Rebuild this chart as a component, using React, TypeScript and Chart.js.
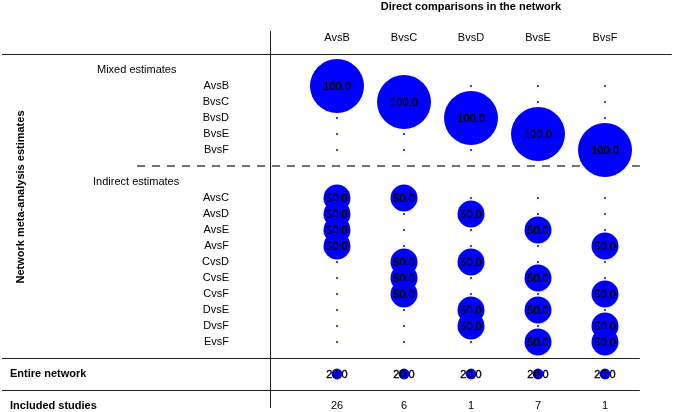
import React, { useEffect, useRef } from "react";
import { Chart, registerables } from "chart.js";

Chart.register(...registerables);

const columns = ["AvsB", "BvsC", "BvsD", "BvsE", "BvsF"];

const mixedLabels = ["AvsB", "BvsC", "BvsD", "BvsE", "BvsF"];
const mixedValues = [
  [100, 0, 0, 0, 0],
  [0, 100, 0, 0, 0],
  [0, 0, 100, 0, 0],
  [0, 0, 0, 100, 0],
  [0, 0, 0, 0, 100],
];

const indirectLabels = ["AvsC", "AvsD", "AvsE", "AvsF", "CvsD", "CvsE", "CvsF", "DvsE", "DvsF", "EvsF"];
const indirectValues = [
  [50, 50, 0, 0, 0],
  [50, 0, 50, 0, 0],
  [50, 0, 0, 50, 0],
  [50, 0, 0, 0, 50],
  [0, 50, 50, 0, 0],
  [0, 50, 0, 50, 0],
  [0, 50, 0, 0, 50],
  [0, 0, 50, 50, 0],
  [0, 0, 50, 0, 50],
  [0, 0, 0, 50, 50],
];

const entireNetwork = [20, 20, 20, 20, 20];
const includedStudies = [26, 6, 1, 7, 1];

const FONT = "'Liberation Sans', Arial, Helvetica, sans-serif";

export default function App() {
  const ref = useRef<HTMLCanvasElement | null>(null);

  useEffect(() => {
    const canvas = ref.current;
    if (!canvas) return;

    // row layout (in row units)
    const mixedStart = 1;
    const indirectStart = mixedStart + mixedLabels.length + 2;
    const entireRow = indirectStart + indirectLabels.length + 1;
    const includedRow = entireRow + 2;

    const rows: { label: string; values: number[]; y: number }[] = [];
    mixedLabels.forEach((l, i) => rows.push({ label: l, values: mixedValues[i], y: mixedStart + i }));
    indirectLabels.forEach((l, i) => rows.push({ label: l, values: indirectValues[i], y: indirectStart + i }));
    rows.push({ label: "Entire network", values: entireNetwork, y: entireRow });

    const datasets = rows.map((row, k) => ({
      label: row.label,
      order: -k,
      data: row.values.map((v, i) => ({ x: i, y: row.y, r: v > 0 ? v * 0.27 : 1, v })),
      backgroundColor: "#0000FF",
      borderWidth: 0,
      hoverRadius: 0,
    }));

    const labelPlugin = {
      id: "bubbleLabels",
      afterDatasetDraw(chart: any, args: any) {
        const ctx = chart.ctx;
        const ds = chart.data.datasets[args.index];
        ctx.save();
        ctx.font = `11px ${FONT}`;
        ctx.fillStyle = "#000";
        ctx.strokeStyle = "#000";
        ctx.lineWidth = 0.35;
        ctx.textAlign = "center";
        ctx.textBaseline = "middle";
        args.meta.data.forEach((el: any, j: number) => {
          const raw = ds.data[j];
          if (raw.v > 0) {
            const t = raw.v.toFixed(1);
            ctx.fillText(t, el.x, el.y + 0.5);
            ctx.strokeText(t, el.x, el.y + 0.5);
          }
        });
        ctx.restore();
      },
    };

    const framePlugin = {
      id: "frame",
      beforeDatasetsDraw(chart: any) {
        const ctx = chart.ctx;
        const xs = chart.scales.x;
        const ys = chart.scales.y;
        const X = (v: number) => xs.getPixelForValue(v);
        const Y = (v: number) => ys.getPixelForValue(v);
        ctx.save();

        // title
        ctx.fillStyle = "#000";
        ctx.textBaseline = "middle";
        ctx.font = `bold 11px ${FONT}`;
        ctx.textAlign = "center";
        ctx.fillText("Direct comparisons in the network", X(2), Y(-4) + 1);

        // column headers
        ctx.font = `11px ${FONT}`;
        columns.forEach((c, i) => ctx.fillText(c, X(i), Y(-2)));

        // included studies numbers
        includedStudies.forEach((n, i) => ctx.fillText(String(n), X(i), Y(includedRow)));

        // section labels
        ctx.textAlign = "left";
        ctx.fillText("Mixed estimates", 97, Y(mixedStart - 1));
        ctx.fillText("Indirect estimates", 93, Y(indirectStart - 1));

        // row labels
        ctx.textAlign = "right";
        mixedLabels.forEach((l, i) => ctx.fillText(l, 229, Y(mixedStart + i)));
        indirectLabels.forEach((l, i) => ctx.fillText(l, 229, Y(indirectStart + i)));

        // bold left labels
        ctx.font = `bold 11px ${FONT}`;
        ctx.textAlign = "left";
        ctx.fillText("Entire network", 10, Y(entireRow));
        ctx.fillText("Included studies", 10, Y(includedRow));

        ctx.save();
        ctx.translate(21, 197);
        ctx.rotate(-Math.PI / 2);
        ctx.textAlign = "center";
        ctx.fillText("Network meta-analysis estimates", 0, 0);
        ctx.restore();

        // lines
        ctx.strokeStyle = "#222";
        ctx.lineWidth = 1.2;
        const hline = (x0: number, x1: number, y: number) => {
          ctx.beginPath();
          ctx.moveTo(x0, y);
          ctx.lineTo(x1, y);
          ctx.stroke();
        };
        hline(2, X(4.997), Math.round(Y(-1)) + 0.5);
        hline(2, X(4.52), Math.round(Y(entireRow - 1)) + 0.5);
        hline(2, X(4.52), Math.round(Y(entireRow + 1)) + 0.5);

        // vertical line
        ctx.lineWidth = 1;
        ctx.beginPath();
        ctx.moveTo(Math.round(X(-1)) + 0.5, Y(-2.44));
        ctx.lineTo(Math.round(X(-1)) + 0.5, Y(21.12));
        ctx.stroke();

        // dashed separator
        ctx.strokeStyle = "#444";
        ctx.lineWidth = 1.5;
        ctx.setLineDash([8, 7]);
        hline(137, X(4.52), Y(mixedStart + mixedLabels.length));
        ctx.setLineDash([]);

        ctx.restore();
      },
    };

    const W = 675;
    const H = 412;
    const pxPerCol = 67;
    const pxPerRow = 16;
    const firstColPx = 337;
    const firstRowPx = 86;
    const xMin = 0 - firstColPx / pxPerCol;
    const yMin = mixedStart - firstRowPx / pxPerRow;

    const chart = new Chart(canvas, {
      type: "bubble",
      data: { datasets },
      plugins: [framePlugin, labelPlugin],
      options: {
        animation: false,
        responsive: false,
        maintainAspectRatio: false,
        devicePixelRatio: 1,
        layout: { padding: 0, autoPadding: false },
        events: [],
        plugins: { legend: { display: false }, tooltip: { enabled: false } },
        scales: {
          x: { type: "linear", display: false, min: xMin, max: xMin + W / pxPerCol },
          y: { type: "linear", display: false, reverse: true, min: yMin, max: yMin + H / pxPerRow },
        },
      },
    } as any);

    return () => chart.destroy();
  }, []);

  return (
    <div style={{ position: "fixed", left: 0, top: 0, width: 675, height: 412, background: "#fff" }}>
      <canvas ref={ref} width={675} height={412} style={{ display: "block", width: 675, height: 412 }} />
    </div>
  );
}
